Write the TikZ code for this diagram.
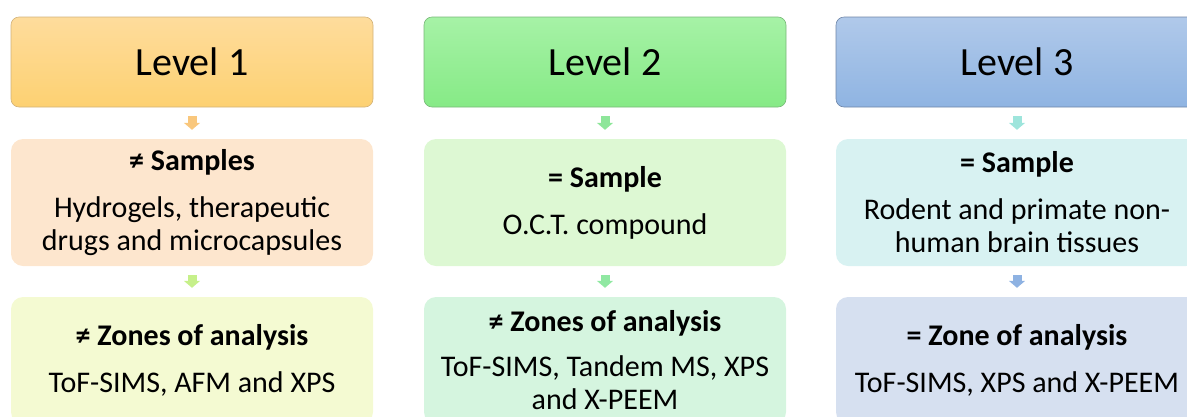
\documentclass[tikz,border=0pt]{standalone}
\usepackage{fontspec}
\setmainfont{Carlito}
\usetikzlibrary{arrows.meta}
\definecolor{hOneT}{HTML}{FEDC9C}
\definecolor{hOneB}{HTML}{FDD172}
\definecolor{hOneD}{HTML}{D2B27A}
\definecolor{hTwoT}{HTML}{A6F2A6}
\definecolor{hTwoB}{HTML}{86EA86}
\definecolor{hTwoD}{HTML}{78B878}
\definecolor{hThrT}{HTML}{B0C9EA}
\definecolor{hThrB}{HTML}{8FB4E2}
\definecolor{hThrD}{HTML}{6F86A8}
\definecolor{mOne}{HTML}{FDE6CE}
\definecolor{bOne}{HTML}{F4FAD2}
\definecolor{mTwo}{HTML}{DDF8D3}
\definecolor{bTwo}{HTML}{D5F5DF}
\definecolor{mThr}{HTML}{D8F2F2}
\definecolor{bThr}{HTML}{D6E0F0}
\definecolor{aOneA}{HTML}{F9C77C}
\definecolor{aOneB}{HTML}{C6F08A}
\definecolor{aTwoA}{HTML}{8EE69A}
\definecolor{aTwoB}{HTML}{90E8A2}
\definecolor{aThrA}{HTML}{9EE5DC}
\definecolor{aThrB}{HTML}{8EB2E2}
\begin{document}
\begin{tikzpicture}[x=1pt,y=-1pt,
  hdr/.style={rounded corners=8pt, minimum width=362pt, minimum height=90pt, inner sep=0pt, line width=0.6pt, font=\fontsize{40}{48}\selectfont},
  boxnode/.style={rounded corners=12pt, minimum width=362pt, minimum height=127pt, inner sep=0pt, align=center, font=\fontsize{30}{33}\selectfont},
  conn/.style={line width=9pt, shorten <=9pt, shorten >=9pt, -{Triangle[width=16pt,length=7pt]}}]
\useasboundingbox (0,0) rectangle (1187,416);
\clip (0,0) rectangle (1187,416);
% column 1
\node[hdr, draw=hOneD, top color=hOneT, bottom color=hOneB] (h1) at (192,62) {Level 1};
\node[boxnode, fill=mOne] (m1) at (192,202.5) {\textbf{≠ Samples}\\[14pt]Hydrogels, therapeutic\\drugs and microcapsules};
\node[boxnode, fill=bOne] (b1) at (192,360.5) {\textbf{≠ Zones of analysis}\\[14pt]ToF-SIMS, AFM and XPS};
\draw[conn, draw=aOneA, fill=aOneA] (h1) -- (m1);
\draw[conn, draw=aOneB, fill=aOneB] (m1) -- (b1);
% column 2
\node[hdr, draw=hTwoD, top color=hTwoT, bottom color=hTwoB] (h2) at (605,62) {Level 2};
\node[boxnode, fill=mTwo] (m2) at (605,202.5) {\textbf{= Sample}\\[14pt]O.C.T. compound};
\node[boxnode, fill=bTwo] (b2) at (605,360.5) {\textbf{≠ Zones of analysis}\\[12pt]ToF-SIMS, Tandem MS, XPS\\and X-PEEM};
\draw[conn, draw=aTwoA, fill=aTwoA] (h2) -- (m2);
\draw[conn, draw=aTwoB, fill=aTwoB] (m2) -- (b2);
% column 3
\node[hdr, draw=hThrD, top color=hThrT, bottom color=hThrB] (h3) at (1017,62) {Level 3};
\node[boxnode, fill=mThr] (m3) at (1017,202.5) {\textbf{= Sample}\\[14pt]Rodent and primate non-\\human brain tissues};
\node[boxnode, fill=bThr] (b3) at (1017,360.5) {\textbf{= Zone of analysis}\\[14pt]ToF-SIMS, XPS and X-PEEM};
\draw[conn, draw=aThrA, fill=aThrA] (h3) -- (m3);
\draw[conn, draw=aThrB, fill=aThrB] (m3) -- (b3);
\end{tikzpicture}
\end{document}
